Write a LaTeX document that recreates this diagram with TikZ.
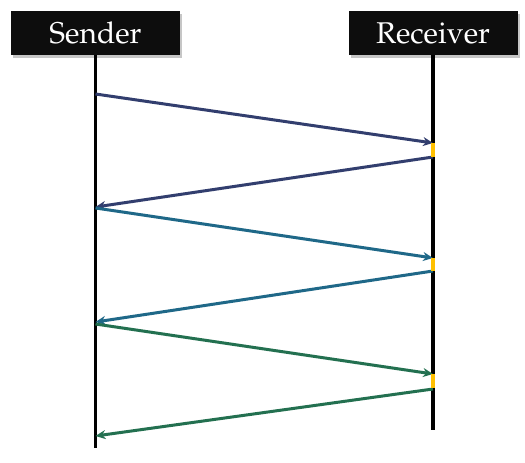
\documentclass[tikz,border=0pt]{standalone}
\usepackage[T1]{fontenc}
\usetikzlibrary{arrows.meta,shadows}
\definecolor{cblue}{HTML}{323E6E}
\definecolor{cteal}{HTML}{1F6888}
\definecolor{cgreen}{HTML}{237050}
\definecolor{cyel}{HTML}{FFC000}
\definecolor{cbox}{HTML}{0D0D0D}
\begin{document}
\begin{tikzpicture}[x=1pt,y=-1pt,
  hdr/.style={fill=cbox,text=white,minimum width=169pt,minimum height=44pt,inner sep=0pt,
    font=\fontfamily{ppl}\selectfont\fontsize{30}{32}\selectfont,
    drop shadow={shadow xshift=2pt,shadow yshift=-3pt,opacity=0.45}},
  life/.style={line width=3.2pt,black},
  msg/.style={line width=3pt,-{Stealth[length=10pt,width=9pt]}},
  proc/.style={fill=cyel,draw=none}]
\useasboundingbox (0,0) rectangle (525,463);
\node[hdr] (S) at (95.5,33) {Sender};
\node[hdr] (R) at (433,33) {Receiver};
\coordinate (Send) at (95.5,448);
\coordinate (Rend) at (433,430);
\draw[life] (S.south) -- (Send);
\draw[life] (R.south) -- (Rend);
% message points
\coordinate (s1) at (95.5,94);  \coordinate (r1) at (433,143);
\coordinate (r2) at (433,157);  \coordinate (s2) at (95.5,207);
\coordinate (s3) at (95.5,208); \coordinate (r3) at (433,258);
\coordinate (r4) at (433,271);  \coordinate (s4) at (95.5,322);
\coordinate (s5) at (95.5,324); \coordinate (r5) at (433,374);
\coordinate (r6) at (433,389);  \coordinate (s6) at (95.5,436);
\draw[msg,cblue] (s1) -- (r1);
\draw[msg,cblue] (r2) -- (s2);
\draw[msg,cteal] (s3) -- (r3);
\draw[msg,cteal] (r4) -- (s4);
\draw[msg,cgreen] (s5) -- (r5);
\draw[msg,cgreen] (r6) -- (s6);
\fill[proc] (431.3,143) rectangle (434.7,157);
\fill[proc] (431.3,258) rectangle (434.7,271);
\fill[proc] (431.3,374) rectangle (434.7,388);
\end{tikzpicture}
\end{document}
